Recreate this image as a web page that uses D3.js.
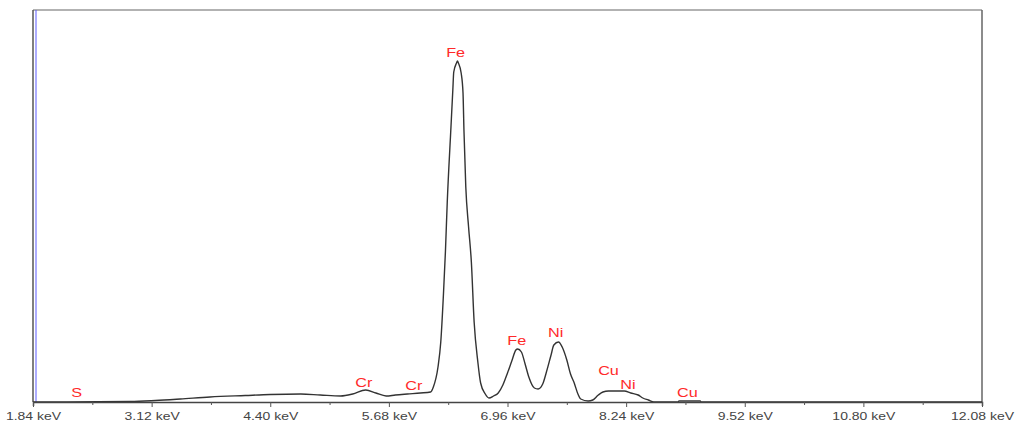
<!DOCTYPE html>
<html>
<head>
<meta charset="utf-8">
<script src="https://cdn.jsdelivr.net/npm/d3@7"></script>
<style>
  html, body { margin: 0; padding: 0; background: #fff; }
  svg { display: block; }
</style>
</head>
<body>
<svg id="chart" width="1024" height="432"></svg>
<script>
// ---- data ----
const energyKeV = [1.84, 2.89, 3.16, 3.43, 3.75, 4.13, 4.40, 4.73, 4.94, 5.16, 5.29, 5.43, 5.54, 5.65, 5.75, 5.88, 6.02, 6.13,
  6.16, 6.21, 6.24, 6.27, 6.29, 6.31, 6.35, 6.37, 6.38, 6.41, 6.42, 6.43, 6.46, 6.48, 6.49, 6.51, 6.54, 6.57, 6.60, 6.64, 6.67, 6.72, 6.76,
  6.81, 6.86, 6.91, 6.96, 7.01, 7.05, 7.07, 7.11, 7.15, 7.19, 7.25, 7.29, 7.34, 7.38, 7.43, 7.46, 7.51, 7.55, 7.60, 7.64, 7.68, 7.72, 7.75,
  7.83, 7.88, 7.94, 7.99, 8.05, 8.13, 8.22, 8.29, 8.37, 8.42, 8.48, 8.54, 8.80, 8.81, 9.04, 9.05, 12.08];
const counts = [0, 0.5, 1.5, 3, 5, 6.5, 7.5, 8, 7, 6, 8, 12, 9, 6, 7, 8, 9, 10,
  15, 35, 60, 110, 150, 200, 275, 312, 330, 339, 341, 339, 329, 309, 272, 215, 175, 140, 80, 40, 19, 8, 4,
  6, 9, 17, 29, 42, 52, 53, 50, 38, 25, 14, 13, 18, 30, 47, 57, 60, 55, 42, 28, 19, 8, 3,
  1, 2, 7, 10, 11, 11, 11, 9, 7, 4, 2, 0, 0, 1, 1, 0, 0];

const tickValues = [1.84, 2.48, 3.12, 3.76, 4.40, 5.04, 5.68, 6.32, 6.96, 7.60, 8.24, 8.88, 9.52, 10.16, 10.80, 11.44, 12.08];
const tickLabels = ["1.84 keV", "", "3.12 keV", "", "4.40 keV", "", "5.68 keV", "", "6.96 keV", "", "8.24 keV", "", "9.52 keV", "", "10.80 keV", "", "12.08 keV"];

const peakNames = ["S", "Cr", "Cr", "Fe", "Fe", "Ni", "Cu", "Ni", "Cu"];
const peakEnergy = [2.31, 5.41, 5.95, 6.40, 7.06, 7.48, 8.05, 8.26, 8.90];
const peakLabelHeight = [5, 15, 12, 345, 57, 65, 27, 13, 5];

// ---- chart ----
const svg = d3.select("#chart");
const mLeft = 33, mRight = 982, mTop = 10, mBottom = 402;

const x = d3.scaleLinear().domain([1.84, 12.08]).range([mLeft, mRight]);
const y = d3.scaleLinear().domain([0, 392]).range([mBottom, mTop]);

// frame
svg.append("line").attr("x1", mLeft).attr("x2", mRight).attr("y1", mTop).attr("y2", mTop)
  .attr("stroke", "#999").attr("stroke-width", 1.5);
svg.append("line").attr("x1", mRight).attr("x2", mRight).attr("y1", mTop).attr("y2", mBottom)
  .attr("stroke", "#666").attr("stroke-width", 1.5);
svg.append("line").attr("x1", mLeft).attr("x2", mLeft).attr("y1", mTop).attr("y2", mBottom)
  .attr("stroke", "#555").attr("stroke-width", 1.5);
svg.append("line").attr("x1", mLeft + 3).attr("x2", mLeft + 3).attr("y1", mTop).attr("y2", mBottom)
  .attr("stroke", "#5a5aff").attr("stroke-width", 1);

// spectrum
const pts = energyKeV.map((e, i) => [e, counts[i]]);
svg.append("path")
  .datum(pts)
  .attr("fill", "none")
  .attr("stroke", "#333")
  .attr("stroke-width", 1.4)
  .attr("d", d3.line().x(d => x(d[0])).y(d => y(d[1])).curve(d3.curveMonotoneX));

// x axis
const axis = d3.axisBottom(x)
  .tickValues(tickValues)
  .tickSize(4)
  .tickFormat((d, i) => tickLabels[i]);
const gx = svg.append("g").attr("transform", `translate(0,${mBottom})`).call(axis);
gx.select(".domain").attr("stroke", "#444").attr("stroke-width", 1.5);
gx.selectAll(".tick line").attr("stroke", "#555")
  .attr("y2", (d, i) => tickLabels[i] ? 5 : 3);
gx.selectAll(".tick text")
  .attr("font-family", "Liberation Sans, Arial, sans-serif")
  .attr("font-size", 10)
  .attr("fill", "#444")
  .attr("y", 0)
  .attr("dy", 0)
  .attr("transform", "translate(0,18) scale(1.4,1)");

// peak labels
svg.append("g").selectAll("text")
  .data(peakNames)
  .join("text")
  .attr("transform", (d, i) => `translate(${x(peakEnergy[i])},${y(peakLabelHeight[i])}) scale(1.25,1)`)
  .attr("text-anchor", "middle")
  .attr("font-family", "Liberation Sans, Arial, sans-serif")
  .attr("font-size", 13)
  .attr("fill", "#ff2a2a")
  .text(d => d);
</script>
</body>
</html>
